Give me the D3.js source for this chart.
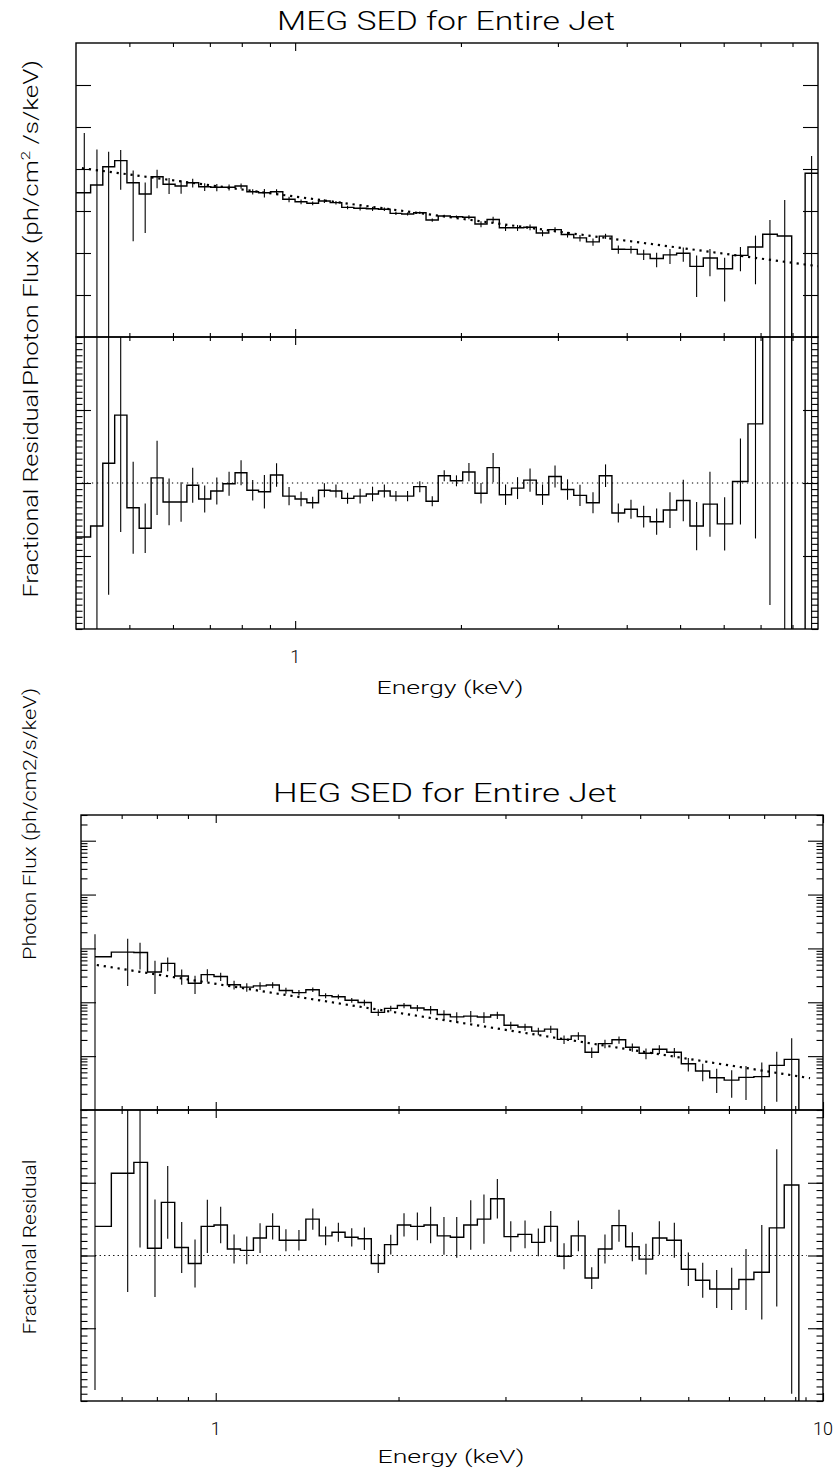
<!DOCTYPE html>
<html><head><meta charset="utf-8">
<script src="https://cdn.jsdelivr.net/npm/d3@7"></script>
<style>
body{margin:0;background:#fff;}
text{font-family:"Roboto","DejaVu Sans",sans-serif;font-weight:300;fill:#000;}
</style></head><body>
<svg id="c" width="838" height="1473"></svg>
<script>
// ---------------- DATA (flux in units of 1e-5 ph/cm^2/s/keV) ----------------
const megEnergy = [0.3926,0.4141,0.4366,0.4585,0.4822,0.5080,0.5342,0.5614,0.5903,0.6207,0.6516,0.6851,0.7207,0.7586,0.7976,0.8374,0.8793,0.9252,0.9748,1.025,1.076,1.130,1.186,1.245,1.312,1.382,1.452,1.524,1.600,1.684,1.774,1.865,1.963,2.068,2.175,2.288,2.410,2.534,2.670,2.813,2.964,3.123,3.290,3.474,3.661,3.862,4.072,4.294,4.533,4.793,5.067,5.358,5.665,6.024,6.435,6.853,7.280,7.744,8.209,8.665,9.160];
const megFlux = [2.73,2.73,4.16,11.35,15.8,4.72,2.54,6.56,4.32,3.94,4.72,3.79,3.67,3.67,3.94,2.88,2.73,2.88,1.90,1.66,1.53,1.73,1.58,1.22,1.16,1.13,1.10,0.88,0.85,0.91,0.61,0.76,0.73,0.71,0.49,0.63,0.40,0.40,0.41,0.30,0.36,0.275,0.229,0.184,0.252,0.123,0.122,0.094,0.074,0.090,0.099,0.048,0.076,0.042,0.088,0.139,0.279,0.254,-0.10,7.9,7.9];
const megFluxErr = [69,69,25,14.5,12.6,4.53,2.24,3.08,1.77,1.37,1.11,0.79,0.72,0.59,0.56,0.42,0.63,0.40,0.29,0.21,0.155,0.17,0.148,0.113,0.137,0.125,0.104,0.074,0.068,0.067,0.057,0.056,0.051,0.078,0.080,0.104,0.066,0.065,0.064,0.050,0.050,0.042,0.040,0.036,0.035,0.027,0.025,0.026,0.028,0.035,0.037,0.039,0.048,0.035,0.051,0.121,0.33,1.58,0.05,12.5,12.5];
const megResid = [-0.74,-0.74,-0.59,0.27,0.93,-0.34,-0.62,0.07,-0.26,-0.26,-0.03,-0.22,-0.11,-0.01,0.14,-0.10,-0.12,0.11,-0.18,-0.22,-0.27,-0.10,-0.11,-0.21,-0.18,-0.15,-0.11,-0.18,-0.18,-0.05,-0.25,0.10,0.03,0.15,-0.14,0.21,-0.16,-0.07,0.04,-0.16,0.09,-0.09,-0.17,-0.27,0.10,-0.41,-0.36,-0.46,-0.53,-0.37,-0.24,-0.59,-0.29,-0.56,0.02,0.81,3.06,3.08,-2.8,154,154];
const megResidErr = [8,8,2.7,1.8,1.6,0.63,0.34,0.51,0.32,0.27,0.24,0.185,0.185,0.165,0.17,0.14,0.23,0.16,0.125,0.10,0.08,0.095,0.09,0.075,0.10,0.10,0.09,0.07,0.07,0.075,0.07,0.075,0.075,0.125,0.14,0.20,0.14,0.15,0.16,0.14,0.15,0.14,0.145,0.145,0.155,0.13,0.13,0.15,0.18,0.245,0.285,0.33,0.445,0.365,0.59,1.57,4.73,25,0.5,245,245];
const megModelE = [0.41, 8.9];
const megModelF = [10.45, 0.0485];

const hegEnergy = [0.6327,0.7162,0.7505,0.7943,0.8336,0.8790,0.9245,0.9687,1.019,1.072,1.125,1.183,1.241,1.305,1.371,1.445,1.517,1.592,1.675,1.757,1.852,1.942,2.042,2.148,2.259,2.376,2.494,2.630,2.765,2.909,3.061,3.231,3.398,3.562,3.746,3.955,4.161,4.375,4.614,4.853,5.111,5.376,5.691,6.001,6.338,6.683,7.074,7.468,7.929,8.392,8.881,9.376];
const hegFlux = [7.00,8.52,8.39,3.66,5.28,3.08,2.26,3.26,3.02,2.12,1.91,2.02,2.09,1.65,1.51,1.71,1.33,1.265,1.094,0.988,0.650,0.772,0.870,0.784,0.726,0.593,0.536,0.554,0.534,0.579,0.374,0.348,0.291,0.317,0.205,0.238,0.118,0.171,0.201,0.146,0.113,0.134,0.118,0.072,0.053,0.0396,0.0358,0.0403,0.0416,0.0673,0.0869,-0.05];
const hegFluxErr = [11.25,6.52,4.31,2.23,1.53,0.97,0.84,0.85,0.53,0.39,0.34,0.33,0.27,0.205,0.175,0.165,0.136,0.125,0.109,0.124,0.095,0.091,0.098,0.106,0.128,0.121,0.120,0.133,0.121,0.088,0.062,0.051,0.047,0.048,0.037,0.039,0.026,0.031,0.031,0.026,0.025,0.025,0.023,0.020,0.019,0.019,0.019,0.025,0.035,0.053,0.127,0.02];
const hegResid = [0.40,1.13,1.28,0.10,0.73,0.11,-0.11,0.40,0.42,0.09,0.07,0.24,0.40,0.21,0.21,0.50,0.27,0.32,0.25,0.23,-0.11,0.15,0.42,0.40,0.42,0.27,0.25,0.42,0.50,0.78,0.26,0.29,0.18,0.40,-0.01,0.27,-0.31,0.09,0.41,0.12,-0.05,0.24,0.21,-0.19,-0.34,-0.46,-0.46,-0.33,-0.23,0.38,0.97,-2.25];
const hegResidErr = [2.25,1.63,1.17,0.67,0.50,0.35,0.33,0.365,0.25,0.20,0.19,0.205,0.18,0.15,0.14,0.145,0.13,0.13,0.125,0.155,0.13,0.135,0.16,0.19,0.25,0.26,0.28,0.34,0.34,0.27,0.21,0.19,0.19,0.21,0.18,0.21,0.15,0.20,0.22,0.20,0.21,0.23,0.24,0.23,0.24,0.26,0.29,0.42,0.65,1.08,2.87,0.3];
const hegModelE = [0.637, 9.52];
const hegModelF = [4.93, 0.039];

// tick values / labels
const megXMinor = [0.5,0.6,0.7,0.8,0.9,2,3,4,5,6,7,8];
const megXMajor = [1];
const megXLabels = ["1"];
const hegXMinor = [0.7,0.8,0.9,2,3,4,5,6,7,8,9];
const hegXMajor = [1,10];
const hegXLabels = ["1","10"];
const megFluxMajor = [0.01,0.1,1,10,100,1000];
const hegFluxMajor = [0.1,1,10,100,1000];
const hegFluxMinorMult = [2,3,4,5,6,7,8,9];
const residMajor = [-1,0,1];

const titles = ["MEG SED for Entire Jet","HEG SED for Entire Jet"];
const xTitle = "Energy (keV)";

// ---------------- DRAWING ----------------
const svg = d3.select("#c");
svg.append("rect").attr("width",838).attr("height",1473).attr("fill","#fff");
const defs = svg.append("defs");
let clipN = 0;

function ticks(g, axisFn, pos, vals, len, horizontal) {
  const a = g.append("g")
    .attr("transform", horizontal ? `translate(0,${pos})` : `translate(${pos},0)`)
    .call(axisFn.tickValues(vals).tickSize(-len).tickFormat(""));
  a.select(".domain").remove();
  a.selectAll("line").attr("stroke","#000").attr("stroke-width",1.1);
}

function panel(o) {
  const g = svg.append("g");
  const id = "clip" + (clipN++);
  defs.append("clipPath").attr("id", id).append("rect")
    .attr("x", o.left).attr("y", o.top).attr("width", o.right - o.left).attr("height", o.bottom - o.top);
  const x = o.x, y = o.y;
  ticks(g, d3.axisTop(x), o.top, o.xMinor, 4, true);
  ticks(g, d3.axisTop(x), o.top, o.xMajor, 8, true);
  ticks(g, d3.axisBottom(x), o.bottom, o.xMinor, 4, true);
  ticks(g, d3.axisBottom(x), o.bottom, o.xMajor, 8, true);
  ticks(g, d3.axisLeft(y), o.left, o.yMajor, 15, false);
  ticks(g, d3.axisRight(y), o.right, o.yMajor, 15, false);
  if (o.yMinor && o.yMinor.length) {
    ticks(g, d3.axisLeft(y), o.left, o.yMinor, 6.5, false);
    ticks(g, d3.axisRight(y), o.right, o.yMinor, 6.5, false);
  }
  const yv = v => (o.log && v <= 0) ? o.bottom + 3000 : y(v);
  const c = g.append("g").attr("clip-path", `url(#${id})`);
  if (o.refE) {
    c.append("path")
      .attr("d", d3.line().x(d => x(d[0])).y(d => yv(d[1]))(d3.zip(o.refE, o.refV)))
      .attr("fill","none").attr("stroke","#000")
      .attr("stroke-width", o.refW).attr("stroke-dasharray", o.refDash);
  }
  const pts = d3.zip(o.E, o.V, o.Err);
  c.selectAll("line.err").data(pts).join("line")
    .attr("x1", d => x(d[0])).attr("x2", d => x(d[0]))
    .attr("y1", d => yv(d[1] + d[2])).attr("y2", d => yv(d[1] - d[2]))
    .attr("stroke","#000").attr("stroke-width",1.1);
  c.append("path")
    .attr("d", d3.line().x(d => x(d[0])).y(d => yv(d[1])).curve(d3.curveStep)(pts))
    .attr("fill","none").attr("stroke","#000").attr("stroke-width",1.4);
  g.append("rect").attr("x", o.left).attr("y", o.top)
    .attr("width", o.right - o.left).attr("height", o.bottom - o.top)
    .attr("fill","none").attr("stroke","#000").attr("stroke-width",1.4);
}

function residMinor(step) {
  const out = [];
  for (let k = -Math.round(2/step); k <= Math.round(2/step); k++) out.push(k*step);
  return out;
}

function yLabel(cx, cy, len, size, parts) {
  const t = svg.append("text").attr("transform",`translate(${cx},${cy}) rotate(-90)`)
    .attr("text-anchor","middle").attr("font-size",size)
    .attr("textLength",len).attr("lengthAdjust","spacingAndGlyphs");
  parts.forEach(p => {
    const s = t.append("tspan").text(p.t);
    if (p.sup) s.attr("dy",-8).attr("font-size",size*0.65);
    if (p.after) s.attr("dy",8);
  });
}

// ---------- MEG ----------
{
  const L = 76, R = 818;
  const x = d3.scaleLog().domain([0.4, 8.9]).range([L, R]);
  const yF = d3.scaleLog().domain([1e-3, 1e4]).range([337, 43]);
  const yR = d3.scaleLinear().domain([-2, 2]).range([629, 337]);
  panel({x, y:yF, log:true, left:L, right:R, top:43, bottom:337,
    xMinor:megXMinor, xMajor:megXMajor, yMajor:megFluxMajor, yMinor:[],
    E:megEnergy, V:megFlux, Err:megFluxErr,
    refE:megModelE, refV:megModelF, refW:2.2, refDash:"2.2,4.8"});
  panel({x, y:yR, log:false, left:L, right:R, top:337, bottom:629,
    xMinor:megXMinor, xMajor:megXMajor, yMajor:residMajor, yMinor:residMinor(1/12),
    E:megEnergy, V:megResid, Err:megResidErr,
    refE:megModelE, refV:[0,0], refW:1, refDash:"1.3,3.7"});
  svg.append("text").attr("x", 446).attr("y", 30).attr("text-anchor","middle")
    .attr("font-size", 25).attr("textLength", 338).attr("lengthAdjust","spacingAndGlyphs").text(titles[0]);
  svg.selectAll("text.mxl").data(megXMajor).join("text")
    .attr("x", d => x(d)).attr("y", 663).attr("text-anchor","middle").attr("font-size",18)
    .text((d,i) => megXLabels[i]);
  svg.append("text").attr("x", 450).attr("y", 694).attr("text-anchor","middle")
    .attr("font-size", 19).attr("textLength", 147).attr("lengthAdjust","spacingAndGlyphs").text(xTitle);
  yLabel(38, 223, 326, 21, [{t:"Photon Flux (ph/cm"},{t:"2",sup:true},{t:" /s/keV)",after:true}]);
  yLabel(38, 493, 209, 21, [{t:"Fractional Residual"}]);
}

// ---------- HEG ----------
{
  const L = 81, R = 823;
  const x = d3.scaleLog().domain([0.6, 10]).range([L, R]);
  const yF = d3.scaleLog().domain([0.01, 3000]).range([1110, 815]);
  const yR = d3.scaleLinear().domain([-2, 2]).range([1401, 1110]);
  const minor = [];
  hegFluxMajor.concat([0.01]).forEach(d => hegFluxMinorMult.forEach(m => { const v = d*m; if (v < 3000.1) minor.push(v); }));
  panel({x, y:yF, log:true, left:L, right:R, top:815, bottom:1110,
    xMinor:hegXMinor, xMajor:hegXMajor, yMajor:hegFluxMajor, yMinor:minor,
    E:hegEnergy, V:hegFlux, Err:hegFluxErr,
    refE:hegModelE, refV:hegModelF, refW:2.2, refDash:"2.2,4.8"});
  panel({x, y:yR, log:false, left:L, right:R, top:1110, bottom:1401,
    xMinor:hegXMinor, xMajor:hegXMajor, yMajor:residMajor, yMinor:residMinor(0.1),
    E:hegEnergy, V:hegResid, Err:hegResidErr,
    refE:[0.633, 9.4], refV:[0,0], refW:1, refDash:"1.3,3.2"});
  svg.append("text").attr("x", 445).attr("y", 802).attr("text-anchor","middle")
    .attr("font-size", 25).attr("textLength", 344).attr("lengthAdjust","spacingAndGlyphs").text(titles[1]);
  svg.selectAll("text.hxl").data(hegXMajor).join("text")
    .attr("x", d => x(d)).attr("y", 1435).attr("text-anchor","middle").attr("font-size",18)
    .text((d,i) => hegXLabels[i]);
  svg.append("text").attr("x", 451).attr("y", 1463).attr("text-anchor","middle")
    .attr("font-size", 19).attr("textLength", 147).attr("lengthAdjust","spacingAndGlyphs").text(xTitle);
  yLabel(36, 824, 272, 18, [{t:"Photon Flux (ph/cm2/s/keV)"}]);
  yLabel(36, 1247, 175, 18, [{t:"Fractional Residual"}]);
}
</script></body></html>
